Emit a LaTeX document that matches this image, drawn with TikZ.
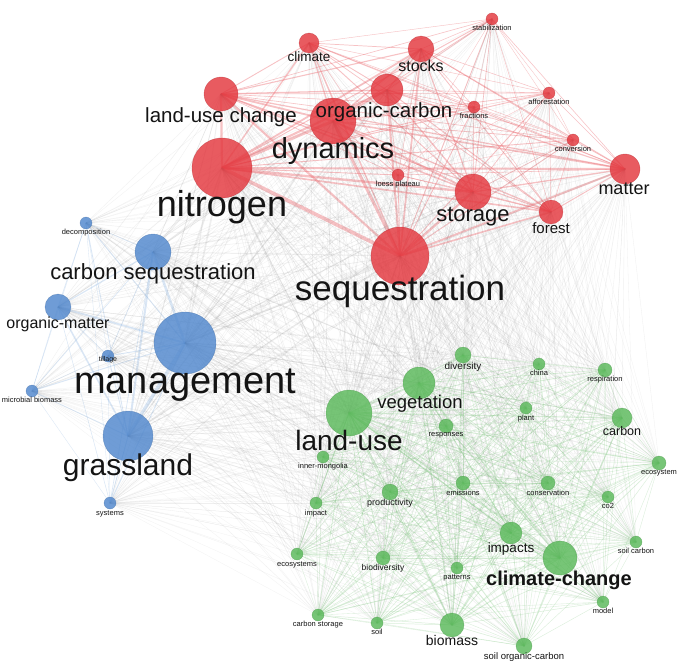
\documentclass[tikz,border=0pt]{standalone}
\usepackage{fontspec}
\setmainfont{Liberation Sans}
\pgfdeclarelayer{background}
\pgfsetlayers{background,main}
\definecolor{nodeR}{RGB}{228,55,62}
\definecolor{nodeB}{RGB}{80,135,205}
\definecolor{nodeG}{RGB}{90,185,90}
\definecolor{edgeR}{RGB}{236,110,116}
\definecolor{edgeB}{RGB}{140,180,225}
\definecolor{edgeG}{RGB}{120,195,120}
\definecolor{edgeK}{RGB}{135,135,135}
\begin{document}
\begin{tikzpicture}[x=1pt,y=-1pt,
  kw/.style={circle,inner sep=0pt,fill opacity=0.82,draw opacity=0.5,line width=0.4pt},
  kwR/.style={kw,fill=nodeR,draw=nodeR!80!black},
  kwB/.style={kw,fill=nodeB,draw=nodeB!80!black},
  kwG/.style={kw,fill=nodeG,draw=nodeG!80!black},
  lab/.style={inner sep=0pt,anchor=base,text=black!92},
  redge/.style={draw=edgeR,opacity=0.42},
  bedge/.style={draw=edgeB,opacity=0.32},
  gedge/.style={draw=edgeG,opacity=0.28},
  kedge/.style={draw=edgeK,opacity=0.13}]
\begin{pgfonlayer}{background}
\fill[white] (0,0) rectangle (685,663);
\end{pgfonlayer}
\useasboundingbox (0,0) rectangle (685,663);
% keyword circles: index/x/y/radius/cluster
\foreach \i/\x/\y/\r/\c in {
 1/309/43/10/1, 2/221/94/17/1, 3/387/90/16/1, 4/333/121/23/1, 5/421/49/13/1,
 6/492/19/6/1, 7/549/93/6/1, 8/474/107/6/1, 9/573/140/6/1, 10/625/169/15/1,
 11/398/175/6/1, 12/473/192/18/1, 13/551/212/12/1, 14/400/256/29/1, 15/222/168/30/1,
 16/86/223/6/2, 17/153/252/18/2, 18/58/307/13/2, 19/185/343/31/2, 20/108/356/6/2,
 21/32/391/6/2, 22/128/436/25/2, 23/110/503/6/2,
 24/349/413/23/3, 25/419/383/16/3, 26/463/355/8/3, 27/539/364/6/3, 28/605/370/7/3,
 29/526/408/6/3, 30/446/426/7/3, 31/622/418/10/3, 32/659/463/7/3, 33/323/457/6/3,
 34/316/503/6/3, 35/390/492/8/3, 36/463/483/7/3, 37/548/483/7/3, 38/608/497/6/3,
 39/511/533/11/3, 40/560/558/17/3, 41/636/542/6/3, 42/297/554/6/3, 43/383/558/7/3,
 44/457/568/6/3, 45/603/602/6/3, 46/318/615/6/3, 47/377/623/6/3, 48/452/625/12/3,
 49/524/646/8/3}{
  \expandafter\xdef\csname kwr\i\endcsname{\r}
  \expandafter\xdef\csname kwc\i\endcsname{\c}
  \ifcase\c\or
    \node[kwR,minimum size=2*\r pt] (n\i) at (\x,\y) {};
  \or
    \node[kwB,minimum size=2*\r pt] (n\i) at (\x,\y) {};
  \or
    \node[kwG,minimum size=2*\r pt] (n\i) at (\x,\y) {};
  \fi
}
% links
\begin{pgfonlayer}{background}
\foreach \i in {1,...,48}{
  \pgfmathtruncatemacro{\js}{\i+1}
  \foreach \j in {\js,...,49}{
    \edef\ri{\csname kwr\i\endcsname}
    \edef\rj{\csname kwr\j\endcsname}
    \edef\ci{\csname kwc\i\endcsname}
    \edef\cj{\csname kwc\j\endcsname}
    \ifnum\ci=\cj\relax
      \pgfmathsetmacro{\w}{0.2+0.004*\ri*\rj}
      \ifcase\ci\or
        \draw[redge,line width=\w pt] (n\i.center) -- (n\j.center);
      \or
        \draw[bedge,line width=\w pt] (n\i.center) -- (n\j.center);
      \or
        \draw[gedge,line width=\w pt] (n\i.center) -- (n\j.center);
      \fi
    \else
      \pgfmathsetmacro{\w}{0.15+0.0016*\ri*\rj}
      \draw[kedge,line width=\w pt] (n\i.center) -- (n\j.center);
    \fi
  }
}
\end{pgfonlayer}
% labels: index/x/y/size/text
\foreach \i/\lx/\ly/\fs/\t in {
 1/309/57/13.5/climate, 2/221/116/20.5/land-use change, 3/384/111/20.5/organic-carbon,
 4/333/150/29/dynamics, 5/421/67/16/stocks, 6/492/28/7.5/stabilization,
 7/549/102/7.5/afforestation, 8/474/116/7.5/fractions, 9/573/149/7.5/conversion,
 10/624/189/18/matter, 11/398/184/7.5/loess plateau, 12/473/215/22/storage,
 13/551/229/15/forest, 14/400/290/35/sequestration, 15/222/206/36/nitrogen,
 16/86/232/7.5/decomposition, 17/153/273/22/carbon sequestration,
 18/58/324/16/organic-matter, 19/185/382/38/management, 20/108/359.5/7/tillage,
 21/32/400/7.5/microbial biomass, 22/128/466/30/grassland, 23/110/513/7.5/systems,
 24/349/442/28/land-use, 25/420/403/18.5/vegetation, 26/463/366/10/diversity,
 27/539/373/7.5/china, 28/605/379/7.5/respiration, 29/526/418/7.5/plant,
 30/446/434/7.5/responses, 31/622/432/12.5/carbon, 32/659/472/7.5/ecosystem,
 33/323/466/7.5/inner-mongolia, 34/316/513/7.5/impact, 35/390/503/9/productivity,
 36/463/493/7.5/emissions, 37/548/493/7.5/conservation, 38/608/506/7.5/co2,
 39/511/548/13.5/impacts, 41/636/551/7.5/soil carbon, 42/297/564/7.5/ecosystems,
 43/383/568/8.5/biodiversity, 44/457/577/7.5/patterns, 45/603/611/7.5/model,
 46/318/624/7.5/carbon storage, 47/377/632/7.5/soil, 48/452/641/14/biomass,
 49/524/657/9.5/soil organic-carbon}{
  \pgfmathsetmacro{\by}{\ly+0.3*\fs}
  \node[lab,font=\fontsize{\fs}{\fs}\selectfont] (lab\i) at (\lx,\by) {\t};
}
\node[lab,font=\fontsize{20}{20}\selectfont\bfseries] (lab40) at (559,585) {climate-change};
\end{tikzpicture}
\end{document}
